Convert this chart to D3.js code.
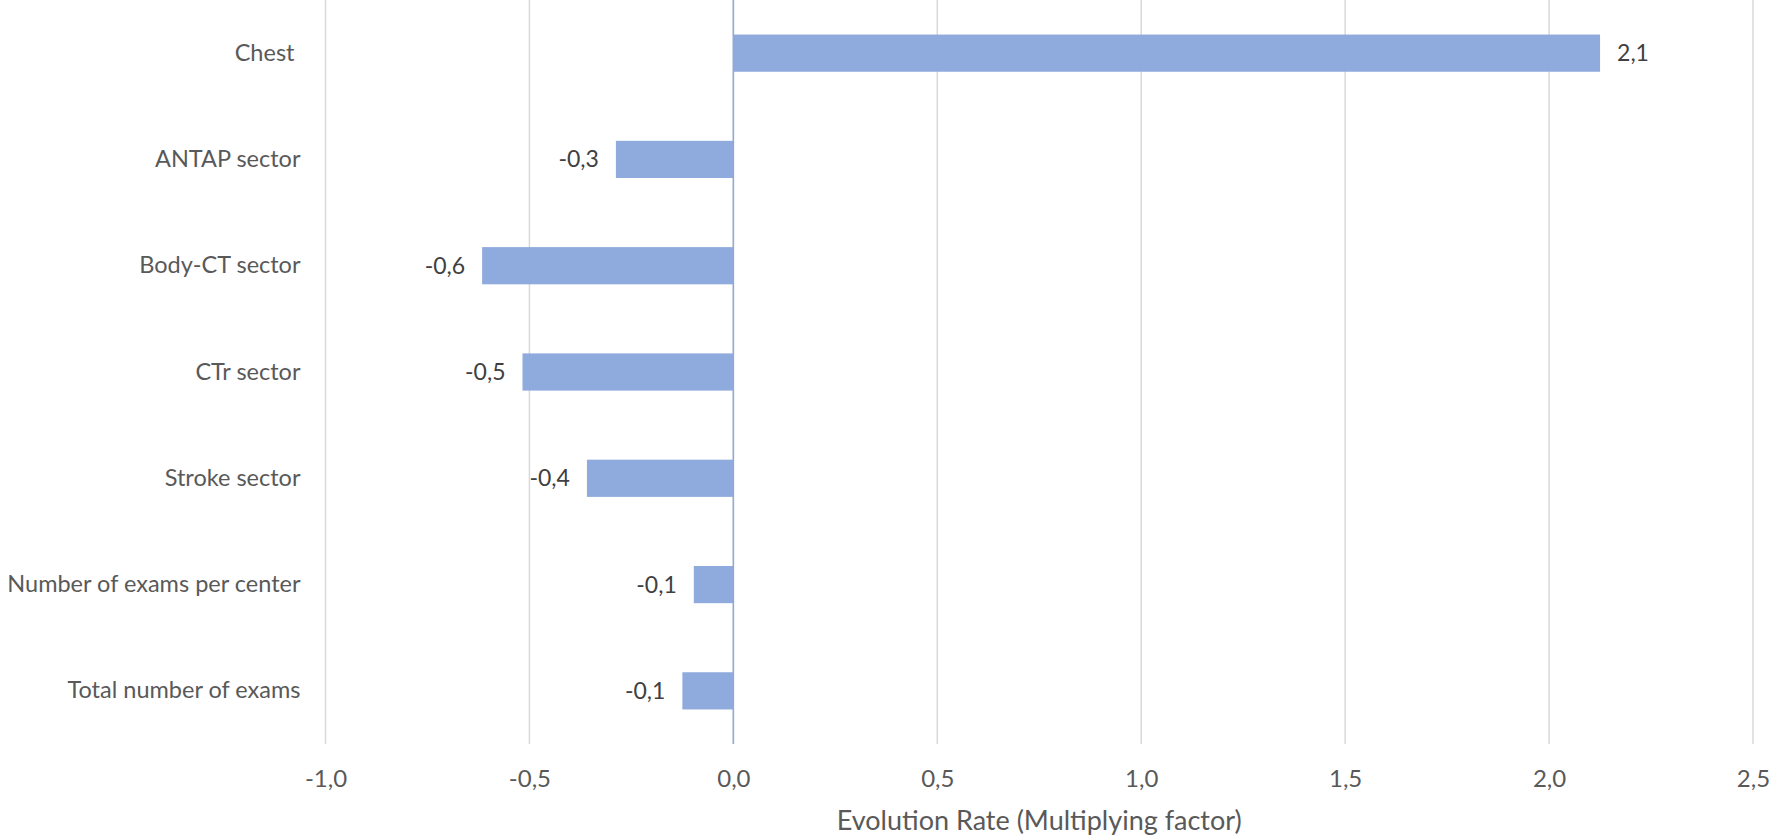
<!DOCTYPE html>
<html>
<head>
<meta charset="utf-8">
<script src="https://cdn.jsdelivr.net/npm/d3@7"></script>
<style>
  html, body { margin: 0; padding: 0; background: #fff; }
  text { font-family: Lato, "Open Sans", sans-serif; }
</style>
</head>
<body>
<div id="viz"></div>
<script>
// data
const categories = [
  'Chest ',
  'ANTAP sector',
  'Body-CT sector',
  'CTr sector',
  'Stroke sector',
  'Number of exams per center',
  'Total number of exams',
];
const values = [2.125, -0.288, -0.616, -0.517, -0.359, -0.097, -0.125];
const xTicks = [-1.0, -0.5, 0.0, 0.5, 1.0, 1.5, 2.0, 2.5];
const xTitle = 'Evolution Rate (Multiplying factor)';

const width = 1770;
const height = 835;
const margin = {left: 325.5, right: 17, top: 0, bottom: 91};
const barColor = '#8faadc';
const gridColor = '#d9d9d9';
const fontSize = 23.5;

const commaFmt = (f) => (v) => f(v).replace('.', ',').replace('−', '-');
const tickFmt = commaFmt(d3.format('.1f'));

const svg = d3.select('#viz').append('svg')
  .attr('width', width)
  .attr('height', height);

const x = d3.scaleLinear()
  .domain([-1, 2.5])
  .range([margin.left, width - margin.right]);

const y = d3.scaleBand()
  .domain(categories)
  .range([margin.top, height - margin.bottom])
  .paddingInner(0.65)
  .paddingOuter(0.325);

// vertical gridlines
svg.append('g')
  .selectAll('line')
  .data(xTicks)
  .join('line')
  .attr('x1', (d) => x(d))
  .attr('x2', (d) => x(d))
  .attr('y1', margin.top)
  .attr('y2', height - margin.bottom)
  .style('stroke', gridColor)
  .style('stroke-width', 1.5);

// bars
svg.append('g')
  .selectAll('rect')
  .data(values)
  .join('rect')
  .attr('x', (d) => x(Math.min(0, d)))
  .attr('width', (d) => Math.abs(x(d) - x(0)))
  .attr('y', (d, i) => y(categories[i]))
  .attr('height', y.bandwidth())
  .style('fill', barColor);

// zero axis line
svg.append('line')
  .attr('x1', x(0))
  .attr('x2', x(0))
  .attr('y1', margin.top)
  .attr('y2', height - margin.bottom)
  .style('stroke', barColor)
  .style('stroke-width', 1.5);

// data labels
svg.append('g')
  .selectAll('text')
  .data(values)
  .join('text')
  .attr('x', (d) => d < 0 ? x(d) - 17 : x(d) + 17)
  .attr('y', (d, i) => y(categories[i]) + y.bandwidth() / 2)
  .attr('dy', '0.35em')
  .attr('text-anchor', (d) => d < 0 ? 'end' : 'start')
  .style('font-size', '23px')
  .style('fill', '#404040')
  .text((d) => tickFmt(d));

// category labels
const yAxis = d3.axisLeft(y).tickSize(0).tickPadding(25);
svg.append('g')
  .attr('transform', `translate(${margin.left},0)`)
  .call(yAxis)
  .call((g) => g.select('.domain').remove())
  .selectAll('text')
  .style('font-size', fontSize + 'px')
  .style('font-family', 'Lato, sans-serif')
  .style('fill', '#595959')
  .style('white-space', 'pre');

// x tick labels
const xAxis = d3.axisBottom(x).tickValues(xTicks).tickFormat(tickFmt).tickSize(0).tickPadding(26);
svg.append('g')
  .attr('transform', `translate(0,${height - margin.bottom})`)
  .call(xAxis)
  .call((g) => g.select('.domain').remove())
  .selectAll('text')
  .style('font-size', '24px')
  .style('font-family', 'Lato, sans-serif')
  .style('fill', '#595959');

// axis title
svg.append('text')
  .attr('x', (x(-1) + x(2.5)) / 2)
  .attr('y', 821)
  .attr('dy', '0.35em')
  .attr('text-anchor', 'middle')
  .style('font-size', '27px')
  .style('fill', '#595959')
  .text(xTitle);
</script>
</body>
</html>
